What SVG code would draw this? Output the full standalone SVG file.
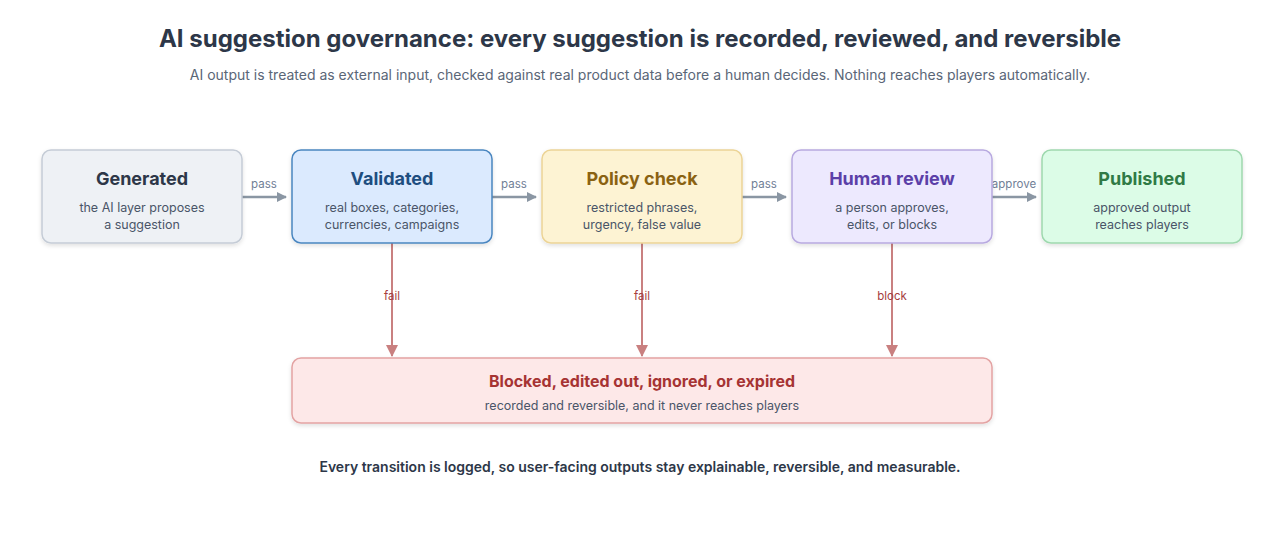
<svg xmlns="http://www.w3.org/2000/svg" width="1280" height="540" viewBox="0 0 1280 540">
<style>
text{font-family:Inter,"Liberation Sans",sans-serif;text-anchor:middle}
.t{font-size:18px;font-weight:700}
.s{font-size:12.5px;fill:#4a5568}
.el{font-size:11.5px;fill:#718096}
.fl{font-size:11.5px;fill:#a63d3d}
.e{stroke:#8a96a3;stroke-width:2.5;fill:none}
.f{stroke:#c98080;stroke-width:2;fill:none}
</style>
<defs>
<marker id="ag" markerWidth="10" markerHeight="10" refX="9" refY="5" orient="auto" markerUnits="userSpaceOnUse"><path d="M0,0L10,5L0,10z" fill="#8a96a3"/></marker>
<marker id="ar" markerWidth="12" markerHeight="12" refX="6" refY="11" orient="0" markerUnits="userSpaceOnUse"><path d="M0,0L12,0L6,12z" fill="#c98080"/></marker>
<filter id="sh" x="-10%" y="-10%" width="120%" height="130%"><feDropShadow dx="0" dy="2" stdDeviation="2" flood-opacity="0.12"/></filter>
</defs>
<rect width="1280" height="540" fill="#fff"/>
<text x="640" y="47" style="font-size:24px;font-weight:700;fill:#2d3748">AI suggestion governance: every suggestion is recorded, reviewed, and reversible</text>
<text x="640" y="80" style="font-size:14px;fill:#5a6677">AI output is treated as external input, checked against real product data before a human decides. Nothing reaches players automatically.</text>
<g id="connectors">
<path class="e" d="M242,197H286" marker-end="url(#ag)"/><text class="el" x="264" y="188">pass</text>
<path class="e" d="M492,197H536" marker-end="url(#ag)"/><text class="el" x="514" y="188">pass</text>
<path class="e" d="M742,197H786" marker-end="url(#ag)"/><text class="el" x="764" y="188">pass</text>
<path class="e" d="M992,197H1036" marker-end="url(#ag)"/><text class="el" x="1014" y="188">approve</text>
<path class="f" d="M392,243V356" marker-end="url(#ar)"/><text class="fl" x="392" y="300">fail</text>
<path class="f" d="M642,243V356" marker-end="url(#ar)"/><text class="fl" x="642" y="300">fail</text>
<path class="f" d="M892,243V356" marker-end="url(#ar)"/><text class="fl" x="892" y="300">block</text>
</g>
<g id="generated"><rect x="42" y="150" width="200" height="93" rx="9" fill="#eef1f5" stroke="#c5ccd6" stroke-width="1.5" filter="url(#sh)"/><text class="t" x="142" y="185" fill="#2d3748">Generated</text><text class="s" x="142" y="212">the AI layer proposes</text><text class="s" x="142" y="229">a suggestion</text></g>
<g id="validated"><rect x="292" y="150" width="200" height="93" rx="9" fill="#dbeafe" stroke="#4a86c0" stroke-width="1.5" filter="url(#sh)"/><text class="t" x="392" y="185" fill="#1e4e80">Validated</text><text class="s" x="392" y="212">real boxes, categories,</text><text class="s" x="392" y="229">currencies, campaigns</text></g>
<g id="policy"><rect x="542" y="150" width="200" height="93" rx="9" fill="#fdf3d3" stroke="#ecd496" stroke-width="1.5" filter="url(#sh)"/><text class="t" x="642" y="185" fill="#8a6212">Policy check</text><text class="s" x="642" y="212">restricted phrases,</text><text class="s" x="642" y="229">urgency, false value</text></g>
<g id="human"><rect x="792" y="150" width="200" height="93" rx="9" fill="#ede9fe" stroke="#b8a9e0" stroke-width="1.5" filter="url(#sh)"/><text class="t" x="892" y="185" fill="#5b3fa8">Human review</text><text class="s" x="892" y="212">a person approves,</text><text class="s" x="892" y="229">edits, or blocks</text></g>
<g id="published"><rect x="1042" y="150" width="200" height="93" rx="9" fill="#dcfce7" stroke="#9ed8ae" stroke-width="1.5" filter="url(#sh)"/><text class="t" x="1142" y="185" fill="#2f7a45">Published</text><text class="s" x="1142" y="212">approved output</text><text class="s" x="1142" y="229">reaches players</text></g>
<g id="blocked"><rect x="292" y="358" width="700" height="65" rx="9" fill="#fde8e8" stroke="#e3a3a3" stroke-width="1.5" filter="url(#sh)"/><text x="642" y="387" style="font-size:16px;font-weight:700;fill:#a63333">Blocked, edited out, ignored, or expired</text><text class="s" x="642" y="410">recorded and reversible, and it never reaches players</text></g>
<text x="640" y="472" style="font-size:14px;font-weight:600;fill:#2d3748">Every transition is logged, so user-facing outputs stay explainable, reversible, and measurable.</text>
</svg>
